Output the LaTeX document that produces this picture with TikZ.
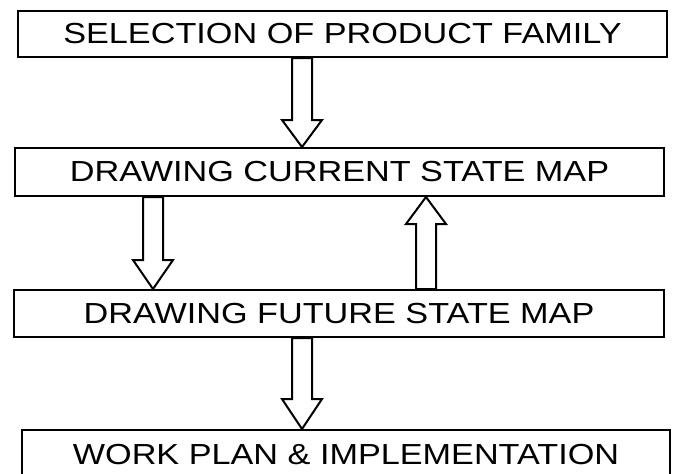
\documentclass[tikz,border=0pt]{standalone}
\usepackage{graphicx}
\usepackage{fontspec}
\setmainfont{Liberation Sans}
\usetikzlibrary{calc,backgrounds}

\newcommand{\widetext}[1]{\raisebox{-1.2pt}{\scalebox{1.18}[1]{#1}}}
\newcommand{\hollowarrow}[3]{% tail, tip, signed head length
    \draw[hollow] ($(#1)+(-10,0)$) -- ($(#2)+(-10,#3)$) -- ($(#2)+(-20,#3)$) -- (#2)
        -- ($(#2)+(20,#3)$) -- ($(#2)+(10,#3)$) -- ($(#1)+(10,0)$) -- cycle;}

\begin{document}
\begin{tikzpicture}[x=0.5pt, y=-0.5pt,
    stage/.style={draw, line width=1pt, inner sep=0pt, font=\fontsize{14.5}{16}\selectfont},
    hollow/.style={draw, fill=white, line width=1pt, line join=miter}]
    \clip (0,0) rectangle (676,473); % last box is cut off at the bottom

    \node[stage, minimum width=324.5pt, minimum height=23pt] (sel) at (342.5,34) {\widetext{SELECTION OF PRODUCT FAMILY}};
    \node[stage, minimum width=324.5pt, minimum height=24pt] (cur) at (339.5,172) {\widetext{DRAWING CURRENT STATE MAP}};
    \node[stage, minimum width=325pt, minimum height=23.5pt] (fut) at (339,313.5) {\widetext{DRAWING FUTURE STATE MAP}};
    \node[stage, minimum width=324pt, minimum height=25pt] (work) at (346,455) {\widetext{WORK PLAN \& IMPLEMENTATION}};

    \coordinate (midcol) at (302,0);
    \coordinate (leftcol) at (153,0);
    \coordinate (rightcol) at (426,0);

    \begin{scope}[on background layer]
        \hollowarrow{sel.south -| midcol}{cur.north -| midcol}{-27}
        \hollowarrow{cur.south -| leftcol}{fut.north -| leftcol}{-29}
        \hollowarrow{fut.north -| rightcol}{cur.south -| rightcol}{27} % back to current state
        \hollowarrow{fut.south -| midcol}{work.north -| midcol}{-30}
    \end{scope}
\end{tikzpicture}
\end{document}
